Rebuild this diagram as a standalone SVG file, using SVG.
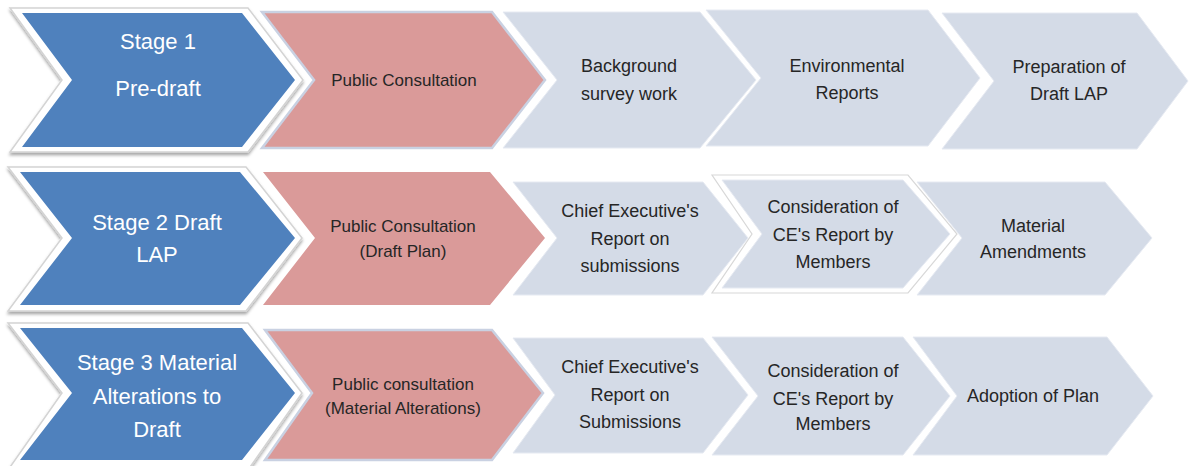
<svg xmlns="http://www.w3.org/2000/svg" width="1190" height="466" viewBox="0 0 1190 466">
<defs>
<style>
.frame{fill:#ffffff;stroke:#d4d4d4;stroke-width:1.5;filter:url(#sh)}
.blue{fill:#4f81bd}
.pink{fill:#da9a99}
.pinkb{fill:#da9a99;stroke:#c9d1e2;stroke-width:2.5}
.gray{fill:#d4dbe7;stroke:#e6eaf2;stroke-width:1}
.gframe{fill:#ffffff;stroke:#d8d8d8;stroke-width:1.2}
text{font-family:"Liberation Sans",Arial,sans-serif;text-anchor:middle}
.tb{fill:#ffffff;font-size:22px}
.tp{fill:#262626;font-size:17px}
.tg{fill:#262626;font-size:18px}
</style>
<filter id="sh" x="-10%" y="-10%" width="120%" height="125%">
<feDropShadow dx="0" dy="2.5" stdDeviation="1.8" flood-color="#000000" flood-opacity="0.35"/>
</filter>
</defs>
<rect width="1190" height="466" fill="#ffffff"/>

<!-- Row 1 -->
<g id="stage1">
<polygon class="frame" points="10,8 248,8 303,80 248,152 10,152 62,80"/>
<polygon class="blue" points="22,13 242,13 295,80 242,147 22,147 72,80"/>
<text class="tb" x="158" y="49">Stage 1</text>
<text class="tb" x="158" y="96">Pre-draft</text>
</g>
<g id="s1-consult">
<polygon class="pinkb" points="262,12 492,12 545,80 492,148 262,148 314,80"/>
<text class="tp" x="404" y="86">Public Consultation</text>
</g>
<g id="s1-background">
<polygon class="gray" points="503,12 700,12 756,80 700,148 503,148 557,80"/>
<text class="tg" x="629" y="72">Background</text>
<text class="tg" x="629" y="100">survey work</text>
</g>
<g id="s1-environmental">
<polygon class="gray" points="706,10 928,10 980,78 928,146 706,146 761,78"/>
<text class="tg" x="847" y="72">Environmental</text>
<text class="tg" x="847" y="99">Reports</text>
</g>
<g id="s1-preparation">
<polygon class="gray" points="942,13 1137,13 1188,81 1137,149 942,149 994,81"/>
<text class="tg" x="1069" y="73">Preparation of</text>
<text class="tg" x="1069" y="100">Draft LAP</text>
</g>

<!-- Row 2 -->
<g id="stage2">
<polygon class="frame" points="8,167 246,167 302,238 246,311 8,311 62,238"/>
<polygon class="blue" points="20,172 240,172 295,238 240,305 20,305 72,238"/>
<text class="tb" x="157" y="230">Stage 2 Draft</text>
<text class="tb" x="157" y="262">LAP</text>
</g>
<g id="s2-consult">
<polygon class="pink" points="263,172 490,172 545,238 490,305 263,305 315,238"/>
<text class="tp" x="403" y="232">Public Consultation</text>
<text class="tp" x="403" y="257">(Draft Plan)</text>
</g>
<g id="s2-ce-report">
<polygon class="gray" points="513,182 703,182 748,238 703,295 513,295 557,238"/>
<text class="tg" x="630" y="217">Chief Executive's</text>
<text class="tg" x="630" y="245">Report on</text>
<text class="tg" x="630" y="272">submissions</text>
</g>
<g id="s2-consideration">
<polygon class="gframe" points="712,175 908,175 957,234 908,293 712,293 752,234"/>
<polygon class="gray" points="722,180 903,180 950,234 903,288 722,288 762,234"/>
<text class="tg" x="833" y="213">Consideration of</text>
<text class="tg" x="833" y="241">CE's Report by</text>
<text class="tg" x="833" y="268">Members</text>
</g>
<g id="s2-amendments">
<polygon class="gray" points="917,182 1105,182 1152,238 1105,295 917,295 962,238"/>
<text class="tg" x="1033" y="232">Material</text>
<text class="tg" x="1033" y="258">Amendments</text>
</g>

<!-- Row 3 -->
<g id="stage3">
<polygon class="frame" points="8,323 248,323 302,393 248,470 8,470 62,393"/>
<polygon class="blue" points="20,328 242,328 295,393 242,460 20,460 72,393"/>
<text class="tb" x="157" y="370">Stage 3 Material</text>
<text class="tb" x="157" y="404">Alterations to</text>
<text class="tb" x="157" y="437">Draft</text>
</g>
<g id="s3-consult">
<polygon class="pinkb" points="265,330 492,330 543,393 492,460 265,460 312,393"/>
<text class="tp" x="403" y="390">Public consultation</text>
<text class="tp" x="403" y="414">(Material Alterations)</text>
</g>
<g id="s3-ce-report">
<polygon class="gray" points="513,338 703,338 748,395 703,453 513,453 555,395"/>
<text class="tg" x="630" y="373">Chief Executive's</text>
<text class="tg" x="630" y="401">Report on</text>
<text class="tg" x="630" y="428">Submissions</text>
</g>
<g id="s3-consideration">
<polygon class="gray" points="712,337 903,337 950,396 903,455 712,455 758,396"/>
<text class="tg" x="833" y="377">Consideration of</text>
<text class="tg" x="833" y="405">CE's Report by</text>
<text class="tg" x="833" y="430">Members</text>
</g>
<g id="s3-adoption">
<polygon class="gray" points="913,337 1107,337 1153,396 1107,455 913,455 957,396"/>
<text class="tg" x="1033" y="402">Adoption of Plan</text>
</g>

<g id="connectors"></g>
</svg>
